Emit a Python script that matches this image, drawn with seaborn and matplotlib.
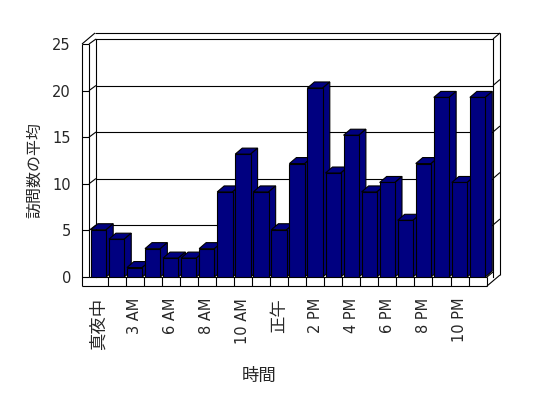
import matplotlib
matplotlib.use("Agg")
import matplotlib.pyplot as plt
from matplotlib.patches import Polygon
from matplotlib.transforms import IdentityTransform
import seaborn as sns

# data
hours = ["真夜中", "1 AM", "3 AM", "4 AM", "6 AM", "7 AM", "8 AM", "9 AM",
         "10 AM", "11 AM", "正午", "1 PM", "2 PM", "3 PM", "4 PM", "5 PM",
         "6 PM", "7 PM", "8 PM", "9 PM", "10 PM", "11 PM"]
visits = [5, 4, 1, 3, 2, 2, 3, 9, 13, 9, 5, 12, 20, 11, 15, 9, 10, 6, 12, 19, 10, 19]
ytick_values = [0, 5, 10, 15, 20, 25]
xlabel = "時間"
ylabel = "訪問数の平均"

NAVY = "#000080"
LW = 0.8
W, H = 548, 398
DEPTH = (7, 6)  # bar depth in pixels (right, up)

sns.set_style("white")
plt.rcParams["font.family"] = ["DejaVu Sans", "Noto Sans CJK JP"]

fig = plt.figure(figsize=(W / 100, H / 100), dpi=100)


def px_axes(left, top, right, bottom, **kw):
    return fig.add_axes([left / W, 1 - bottom / H, (right - left) / W, (bottom - top) / H], **kw)


# planes in pixels (left, top, right, bottom), measured from the top
FRONT = (82, 44, 487, 277)
BAR = (89.5, 40.7, 486.6, 277)
BACK = (96, 39, 493, 277)
FLOOR_Y = 286
OUTER = (95, 33, 500)  # wall thickness edge: left, top, right

# back wall with gridlines
ax_back = px_axes(*BACK, zorder=0)
ax_back.set_xlim(-0.5, 21.5)
ax_back.set_ylim(-0.59, 25)
for v in ytick_values[1:-1]:
    ax_back.axhline(v, color="black", lw=LW)
ax_back.set_xticks([])
ax_back.set_yticks([])
for side in ["left", "top", "right"]:
    ax_back.spines[side].set_color("black")
    ax_back.spines[side].set_linewidth(LW)
ax_back.spines["bottom"].set_visible(False)

# front axis: y ticks and labels
ax_front = px_axes(*FRONT, zorder=1)
ax_front.patch.set_visible(False)
ax_front.set_ylim(0, 25)
ax_front.set_yticks(ytick_values)
ax_front.set_xticks([])
ax_front.tick_params(axis="y", direction="in", length=5, width=LW, pad=8,
                     labelsize=10.5, color="black", left=True)
for s in ax_front.spines.values():
    s.set_visible(False)
ax_front.set_ylabel(ylabel, fontsize=11.5)
ax_front.yaxis.set_label_coords(-0.099, 0.459)

# overlay for the frame lines (pixel coords from top-left)
ax_px = fig.add_axes([0, 0, 1, 1], zorder=2)
ax_px.set_xlim(0, W)
ax_px.set_ylim(H, 0)
ax_px.axis("off")


def seg(p, q):
    ax_px.plot([p[0], q[0]], [p[1], q[1]], color="black", lw=LW, solid_capstyle="butt")


fl, ft, fr, fb = FRONT
bl, bt, br, bb = BACK
ol, ot, orr = OUTER
seg((fl, ft), (fl, FLOOR_Y))
seg((fl + 7, ft), (fl + 7, fb))
seg((fl, ft), (ol, ot))
seg((ol, ot), (orr, ot))
seg((orr, ot), (orr, FLOOR_Y - 11))
seg((br, bt), (orr, ot))
seg((fl, FLOOR_Y), (fr, FLOOR_Y))
seg((fl + 7, fb), (fr, fb))
seg((fr, fb), (fr, FLOOR_Y))
seg((fr, FLOOR_Y), (orr, FLOOR_Y - 11))
seg((fr, fb), (br, fb - 5))

# wall gridline slants
for v in ytick_values[1:]:
    yf = H - ax_front.get_yaxis_transform().transform((0, v))[1]
    yb = H - ax_back.get_yaxis_transform().transform((0, v))[1]
    seg((fl + 7, yf), (bl, yb))
for v in ytick_values[1:-1]:
    yb = H - ax_back.get_yaxis_transform().transform((0, v))[1]
    seg((br, yb), (orr, yb - 6))

# bars
ax_bar = px_axes(*BAR, zorder=3)
ax_bar.patch.set_visible(False)
sns.barplot(x=hours, y=visits, color=NAVY, saturation=1, width=0.85,
            edgecolor="black", linewidth=LW, ax=ax_bar)
ax_bar.set_xlim(-0.5, 21.5)
ax_bar.set_ylim(0, 25)

# floor ticks at category boundaries
for k in range(1, len(hours)):
    x = ax_bar.transData.transform((k - 0.5, 0))[0]
    seg((x, fb), (x, FLOOR_Y))

dx, dy = DEPTH
for i, p in enumerate(list(ax_bar.patches)):
    x0, y0 = ax_bar.transData.transform((p.get_x(), 0))
    x1, y1 = ax_bar.transData.transform((p.get_x() + p.get_width(), p.get_height()))
    top = [(x0, y1), (x1, y1), (x1 + dx, y1 + dy), (x0 + dx, y1 + dy)]
    side = [(x1, y0), (x1, y1), (x1 + dx, y1 + dy), (x1 + dx, y0 + dy)]
    for verts in (top, side):
        ax_bar.add_patch(Polygon(verts, closed=True, facecolor=NAVY, edgecolor="black",
                                 lw=LW, transform=IdentityTransform(), clip_on=False,
                                 zorder=2 + 2 * i))
    p.set_zorder(3 + 2 * i)

ax_bar.set_xlim(-0.5, 21.5)
ax_bar.set_ylim(0, 25)
ax_bar.set_yticks([])
ax_bar.set_xticks(range(0, len(hours), 2))
ax_bar.set_xticklabels(hours[::2], rotation=90)
ax_bar.tick_params(axis="x", length=0, pad=15, labelsize=10.5)
for lab in ax_bar.get_xticklabels():
    if not lab.get_text().isascii():
        lab.set_fontsize(12.5)
for s in ax_bar.spines.values():
    s.set_visible(False)
ax_bar.set_xlabel(xlabel, fontsize=12.5)
ax_bar.xaxis.set_label_coords(0.427, -0.381)

fig.savefig("out.png", dpi=100)
